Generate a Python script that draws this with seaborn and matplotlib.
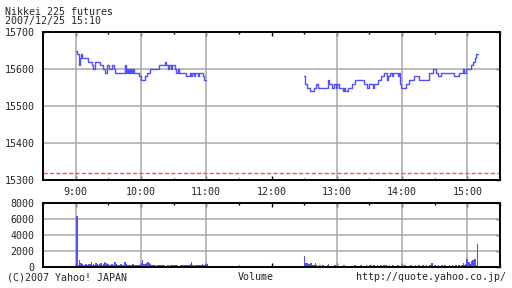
import numpy as np
import pandas as pd
import matplotlib
matplotlib.use("Agg")
import matplotlib.pyplot as plt
import seaborn as sns

# ---------------- data ----------------
# minutes after 9:00 where price steps change, and prices
am_min = [0, 1, 3, 4, 5, 6, 11, 15, 16, 18, 22, 25, 27, 29, 31, 33, 35, 36, 45, 46,
          47, 48, 49, 50, 51, 52, 53, 54, 58, 60, 64, 66, 68, 77, 82, 83, 85, 86, 88, 89,
          91, 92, 94, 95, 101, 105, 106, 107, 109, 110, 112, 113, 117, 118, 120]
am_price = [15650, 15640, 15610, 15630, 15640, 15630, 15620, 15610, 15600, 15620,
            15610, 15600, 15590, 15610, 15600, 15610, 15600, 15590, 15610, 15590,
            15600, 15590, 15600, 15590, 15600, 15590, 15600, 15590, 15580, 15570,
            15580, 15590, 15600, 15610, 15620, 15610, 15600, 15610, 15600, 15610,
            15600, 15590, 15600, 15590, 15580, 15590, 15580, 15590, 15580, 15590,
            15580, 15590, 15580, 15570, 15570]
pm_min = [210, 211, 213, 215, 219, 221, 223, 232, 233, 236,
          237, 239, 240, 242, 246, 247, 248, 250, 254, 257,
          265, 268, 270, 273, 274, 278, 281, 283, 286, 287,
          289, 291, 292, 296, 297, 298, 299, 304, 306, 311,
          316, 325, 328, 331, 333, 336, 348, 352, 356, 357,
          359, 363, 365, 367, 368, 370]
pm_price = [15580, 15560, 15550, 15540, 15550, 15560, 15550, 15570, 15560, 15550,
            15560, 15550, 15560, 15550, 15540, 15550, 15540, 15550, 15560, 15570,
            15560, 15550, 15560, 15550, 15560, 15570, 15580, 15590, 15570, 15580,
            15590, 15580, 15590, 15580, 15590, 15560, 15550, 15560, 15570, 15580,
            15570, 15590, 15600, 15590, 15580, 15590, 15580, 15590, 15600, 15590,
            15600, 15610, 15620, 15630, 15640, 15640]
prev_close = 15318

# volume per minute, morning (9:00-11:00) and afternoon (12:30-15:10)
am_vol = [300, 6400, 250, 900, 550, 600, 400, 250, 350, 450,
          350, 300, 400, 450, 700, 350, 400, 300, 500, 400,
          350, 300, 400, 550, 350, 400, 700, 500, 600, 400,
          300, 350, 250, 400, 300, 350, 700, 400, 300, 250,
          350, 400, 300, 250, 300, 700, 400, 300, 350, 250,
          300, 250, 400, 300, 250, 200, 300, 350, 250, 400,
          500, 900, 450, 400, 350, 500, 700, 500, 400, 350,
          300, 250, 350, 300, 200, 250, 300, 200, 250, 300,
          200, 250, 0, 200, 250, 300, 200, 250, 200, 300,
          250, 200, 250, 300, 200, 0, 250, 300, 200, 250,
          300, 350, 250, 200, 300, 400, 700, 300, 250, 200,
          300, 250, 350, 200, 250, 300, 400, 250, 300, 450,
          400]
pm_vol = [1400, 500, 600, 300, 450, 300, 500, 250, 350, 250,
          580, 250, 200, 150, 250, 200, 150, 250, 200, 150,
          200, 250, 400, 200, 150, 0, 200, 150, 250, 150,
          200, 150, 0, 150, 200, 150, 250, 150, 200, 150,
          150, 200, 150, 0, 200, 150, 250, 150, 200, 150,
          150, 200, 250, 150, 0, 200, 150, 250, 150, 200,
          150, 250, 200, 150, 300, 200, 150, 250, 150, 200,
          250, 150, 200, 300, 150, 250, 200, 150, 250, 150,
          200, 250, 150, 200, 0, 150, 250, 200, 150, 250,
          200, 150, 250, 150, 200, 0, 150, 200, 250, 150,
          200, 150, 250, 200, 150, 250, 200, 150, 200, 250,
          150, 200, 250, 150, 200, 350, 250, 500, 200, 150,
          250, 200, 150, 250, 200, 150, 250, 200, 150, 250,
          200, 150, 200, 250, 150, 200, 250, 150, 200, 250,
          150, 200, 250, 200, 250, 350, 500, 250, 400, 1040,
          350, 700, 250, 400, 800, 900, 1100, 1100, 350, 2900,
          0]
am_start, pm_start = 0, 210

hour_ticks = [0, 60, 120, 180, 240, 300, 360]
hour_labels = ["9:00", "10:00", "11:00", "12:00", "13:00", "14:00", "15:00"]
grid_hours = [0, 60, 120, 240, 300, 360]
price_ticks = [15300, 15400, 15500, 15600, 15700]
vol_ticks = [0, 2000, 4000, 6000, 8000]

# ---------------- style ----------------
sns.set_style("white")
plt.rcParams["font.family"] = ["DejaVu Sans Mono"]
plt.rcParams["font.size"] = 7.2
plt.rcParams["lines.scale_dashes"] = False

BLUE = "#5050ff"
GRID = "#a8a8a8"

fig = plt.figure(figsize=(5.12, 2.88), dpi=100)
W, H = 512, 288
def rect(x0, y0, x1, y1):
    return [x0 / W, 1 - y1 / H, (x1 - x0) / W, (y1 - y0) / H]

axp = fig.add_axes(rect(43, 32, 500, 180))
axv = fig.add_axes(rect(43, 203.3, 500, 267.3))

am_df = pd.DataFrame({"minute": am_min, "price": am_price})
pm_df = pd.DataFrame({"minute": pm_min, "price": pm_price})
for df in (am_df, pm_df):
    sns.lineplot(data=df, x="minute", y="price", ax=axp, color=BLUE,
                 drawstyle="steps-post", linewidth=1.0, zorder=3,
                 estimator=None, sort=False)
axp.axhline(prev_close, color="#ff5050", linewidth=1.0, dashes=(3, 1.6), zorder=2)

vol_df = pd.DataFrame({
    "minute": list(range(am_start, am_start + len(am_vol))) + list(range(pm_start, pm_start + len(pm_vol))),
    "volume": am_vol + pm_vol,
})
sns.histplot(data=vol_df, x="minute", weights="volume", discrete=True, shrink=0.6,
             ax=axv, color=BLUE, alpha=1.0, linewidth=0.5, edgecolor=BLUE,
             zorder=3, antialiased=False)

for ax, yticks, ylim in ((axp, price_ticks, (15300, 15700)), (axv, vol_ticks, (0, 8000))):
    ax.set_xlim(-30, 390)
    ax.set_ylim(*ylim)
    ax.set_yticks(yticks)
    ax.set_yticklabels([str(t) for t in yticks])
    ax.set_xticks(hour_ticks)
    ax.set_xticks([m + 30 for m in [-60] + hour_ticks], minor=True)
    ax.set_xlabel("")
    ax.set_ylabel("")
    for x in grid_hours:
        ax.axvline(x, color=GRID, linewidth=1.1, zorder=1)
    for y in yticks[1:-1]:
        ax.axhline(y, color=GRID, linewidth=1.1, zorder=1)
    for s in ax.spines.values():
        s.set_visible(True)
        s.set_color("black")
        s.set_linewidth(1.4)
        s.set_zorder(5)
    ax.tick_params(axis="x", which="major", direction="in", length=3, width=1,
                   top=True, bottom=True, color="black", pad=5)
    ax.tick_params(axis="x", which="minor", direction="in", length=1.6, width=1,
                   top=True, bottom=True, color="black")
    ax.tick_params(axis="y", which="major", direction="in", length=3, width=1,
                   left=False, right=True, labelleft=True, labelright=False,
                   color="black", pad=6)
    ax.set_facecolor("white")

axp.set_xticklabels(hour_labels)
axv.set_xticklabels([])

fig.text(5 / W, 1 - 12 / H, "Nikkei 225 futures", ha="left", va="center")
fig.text(5 / W, 1 - 21 / H, "2007/12/25 15:10", ha="left", va="center")
fig.text(7 / W, 1 - 277 / H, "(C)2007 Yahoo! JAPAN", ha="left", va="center")
fig.text(256 / W, 1 - 277 / H, "Volume", ha="center", va="center")
fig.text(506 / W, 1 - 277 / H, "http://quote.yahoo.co.jp/", ha="right", va="center")

fig.savefig("out.png", dpi=100, facecolor="white")
